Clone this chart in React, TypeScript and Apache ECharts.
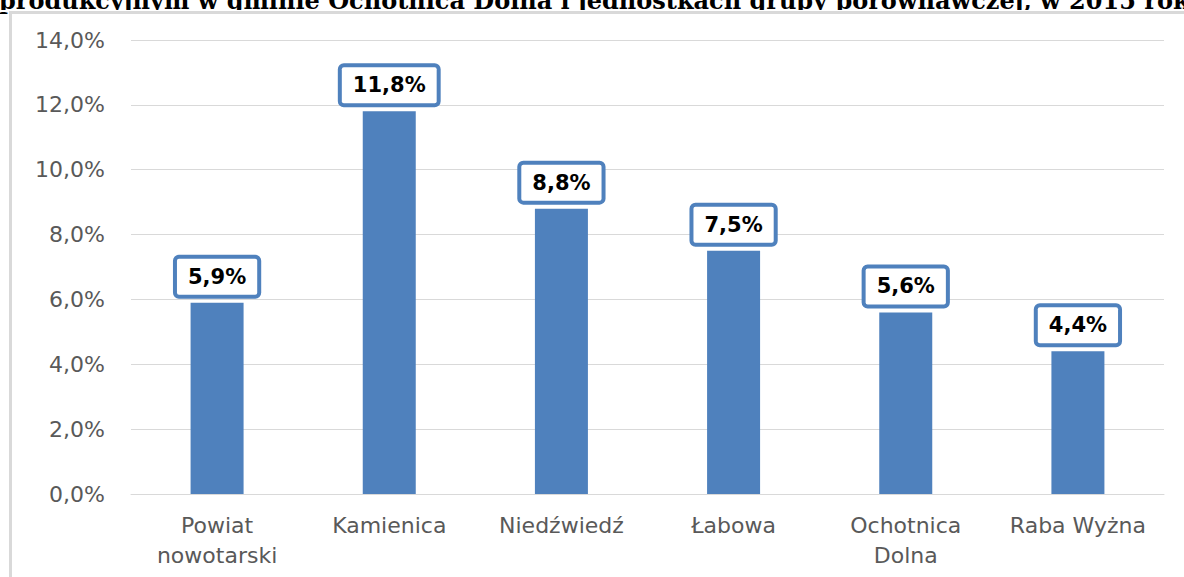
import React, { useEffect, useRef } from "react";
import * as echarts from "echarts";

const categories = ["Powiat\nnowotarski", "Kamienica", "Niedźwiedź", "Łabowa", "Ochotnica\nDolna", "Raba Wyżna"];
const values = [5.9, 11.8, 8.8, 7.5, 5.6, 4.4];
const titleText = "produkcyjnym w gminie Ochotnica Dolna i jednostkach grupy porównawczej, w 2015 roku";

const fmt = (v: number) => v.toFixed(1).replace(".", ",") + "%";

export default function App() {
  const ref = useRef<HTMLDivElement>(null);
  useEffect(() => {
    document.body.style.margin = "0";
    const chart = echarts.init(ref.current!, null, { renderer: "svg" });
    chart.setOption({
      animation: false,
      backgroundColor: "#ffffff",
      grid: { left: 131, right: 20, top: 40, bottom: 83 },
      graphic: [
        {
          type: "text",
          x: -1,
          y: 12,
          style: {
            text: titleText,
            font: "bold 24px 'DejaVu Serif'",
            fill: "#000000",
            verticalAlign: "bottom",
          },
          silent: true,
        },
        { type: "rect", shape: { x: 0, y: 10, width: 1184, height: 2 }, style: { fill: "#ffffff" }, silent: true },
        { type: "rect", shape: { x: 9, y: 11, width: 1175, height: 3 }, style: { fill: "#d9d9d9" }, silent: true },
        { type: "rect", shape: { x: 9, y: 11, width: 3, height: 566 }, style: { fill: "#d9d9d9" }, silent: true },
      ],
      xAxis: {
        type: "category",
        data: categories,
        axisLine: { show: true, lineStyle: { color: "#d9d9d9", width: 1 } },
        axisTick: { show: false },
        axisLabel: {
          color: "#595959",
          fontFamily: "DejaVu Sans",
          fontSize: 22,
          lineHeight: 30,
          margin: 16,
          interval: 0,
        },
      },
      yAxis: {
        type: "value",
        min: 0,
        max: 14,
        interval: 2,
        axisLine: { show: false },
        axisTick: { show: false },
        splitLine: { lineStyle: { color: "#d9d9d9", width: 1 } },
        axisLabel: {
          color: "#595959",
          fontFamily: "DejaVu Sans",
          fontSize: 22,
          margin: 26,
          formatter: (v: number) => fmt(v),
        },
      },
      series: [
        {
          type: "bar",
          data: values,
          barWidth: 53,
          itemStyle: { color: "#4f81bd" },
          label: {
            show: true,
            position: "top",
            distance: 8,
            formatter: (p: any) => fmt(p.value),
            color: "#000000",
            fontFamily: "DejaVu Sans",
            fontWeight: "bold",
            fontSize: 21,
            lineHeight: 22,
            backgroundColor: "#ffffff",
            borderColor: "#4f81bd",
            borderWidth: 4,
            borderRadius: 2,
            padding: [7, 11],
          },
        },
      ],
    });
    return () => chart.dispose();
  }, []);
  return <div ref={ref} style={{ width: 1184, height: 577 }} />;
}
